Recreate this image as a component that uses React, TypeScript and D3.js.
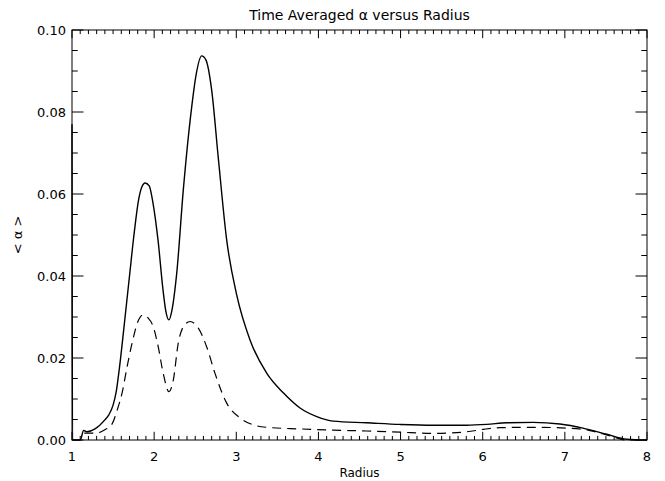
import React from "react";
import * as d3 from "d3";

const solidR = [1.0, 1.006, 1.1, 1.142, 1.183, 1.28, 1.4, 1.45, 1.5, 1.54, 1.58, 1.63, 1.7, 1.76, 1.81, 1.85, 1.89, 1.94, 1.986, 2.047, 2.108, 2.14, 2.18, 2.217, 2.275, 2.355, 2.457, 2.51, 2.579, 2.63, 2.7, 2.78, 2.883, 3.005, 3.167, 3.37, 3.572, 3.776, 3.98, 4.18, 4.588, 4.993, 5.395, 5.805, 6.049, 6.292, 6.612, 6.94, 7.22, 7.51, 7.753, 8.0];
const solidV = [0.077, 0.0, 0.0, 0.0023, 0.002, 0.0027, 0.0049, 0.0062, 0.0085, 0.012, 0.018, 0.027, 0.04, 0.051, 0.0585, 0.0617, 0.0627, 0.062, 0.0578, 0.0488, 0.0366, 0.0317, 0.0293, 0.0317, 0.0407, 0.061, 0.0812, 0.089, 0.0937, 0.0927, 0.0854, 0.069, 0.0488, 0.0354, 0.0244, 0.0163, 0.0115, 0.0078, 0.0057, 0.0046, 0.0042, 0.0038, 0.0036, 0.0036, 0.0038, 0.0042, 0.0043, 0.0039, 0.0029, 0.0014, 0.0002, 0.0];

const dashR = [1.15, 1.2, 1.3, 1.4, 1.49, 1.55, 1.61, 1.67, 1.74, 1.8, 1.868, 1.925, 1.99, 2.05, 2.11, 2.18, 2.233, 2.294, 2.355, 2.437, 2.538, 2.64, 2.74, 2.883, 3.045, 3.207, 3.37, 3.776, 4.18, 4.588, 4.993, 5.395, 5.805, 6.007, 6.21, 6.612, 7.02, 7.306, 7.55, 7.753, 8.0];
const dashV = [0.0017, 0.0017, 0.0017, 0.0025, 0.004, 0.0073, 0.0115, 0.0178, 0.0244, 0.0288, 0.0305, 0.0298, 0.0276, 0.0227, 0.0163, 0.0118, 0.0146, 0.0237, 0.0276, 0.0289, 0.0273, 0.0227, 0.0163, 0.009, 0.0054, 0.0037, 0.0031, 0.0027, 0.0024, 0.0022, 0.0019, 0.0016, 0.002, 0.0026, 0.003, 0.0031, 0.0029, 0.0023, 0.001, 0.0, 0.0];

const xTicks = [1, 2, 3, 4, 5, 6, 7, 8];
const xTickLabels = ["1", "2", "3", "4", "5", "6", "7", "8"];
const yTicks = [0, 0.02, 0.04, 0.06, 0.08, 0.1];
const yTickLabels = ["0.00", "0.02", "0.04", "0.06", "0.08", "0.10"];

const titleText = "Time Averaged α versus Radius";
const xTitle = "Radius";
const yTitle = "< α >";

export default function App() {
  const W = 665, H = 481;
  const L = 72, R = 647, T = 30, B = 440;
  const x = d3.scaleLinear().domain([1, 8]).range([L, R]);
  const y = d3.scaleLinear().domain([0, 0.1]).range([B, T]);

  const xMinor = d3.range(1, 8.0001, 0.1).map((v) => Math.round(v * 10) / 10);
  const yMinor = d3.range(0, 0.10001, 0.005).map((v) => Math.round(v * 1000) / 1000);

  const xMaj = 0.02 * (B - T);
  const yMaj = 0.02 * (R - L);

  const line = d3
    .line<[number, number]>()
    .x((d) => x(d[0]))
    .y((d) => y(d[1]))
    .curve(d3.curveMonotoneX);

  const solid = solidR.map((r, i) => [r, solidV[i]] as [number, number]);
  const dashed = dashR.map((r, i) => [r, dashV[i]] as [number, number]);

  const font = "'DejaVu Sans', sans-serif";

  return (
    <svg width={W} height={H} style={{ position: "absolute", left: 0, top: 0, background: "#fff" }}>
      <rect x={0} y={0} width={W} height={H} fill="#fff" />
      <g stroke="#000" strokeWidth={1} fill="none">
        <rect x={L} y={T} width={R - L} height={B - T} />
        {xMinor.map((v, i) => {
          const major = Math.abs(v - Math.round(v)) < 1e-6;
          const len = major ? xMaj : xMaj / 2;
          return (
            <g key={"xm" + i}>
              <line x1={x(v)} x2={x(v)} y1={B} y2={B - len} />
              <line x1={x(v)} x2={x(v)} y1={T} y2={T + len} />
            </g>
          );
        })}
        {yMinor.map((v, i) => {
          const major = Math.abs(v / 0.02 - Math.round(v / 0.02)) < 1e-6;
          const len = major ? yMaj : yMaj / 2;
          return (
            <g key={"ym" + i}>
              <line x1={L} x2={L + len} y1={y(v)} y2={y(v)} />
              <line x1={R} x2={R - len} y1={y(v)} y2={y(v)} />
            </g>
          );
        })}
      </g>
      <path d={line(solid) || ""} fill="none" stroke="#000" strokeWidth={1.4} />
      <path d={line(dashed) || ""} fill="none" stroke="#000" strokeWidth={1.2} strokeDasharray="9,6" />
      <g fontFamily={font} fontSize={13} fill="#000">
        {xTicks.map((v, i) => (
          <text key={"xl" + i} x={x(v)} y={B + 21} textAnchor="middle">
            {xTickLabels[i]}
          </text>
        ))}
        {yTicks.map((v, i) => (
          <text key={"yl" + i} x={L - 6} y={y(v) + 5} textAnchor="end">
            {yTickLabels[i]}
          </text>
        ))}
        <text x={(L + R) / 2} y={477} textAnchor="middle" fontSize={12}>
          {xTitle}
        </text>
        <text transform={`translate(22, ${(T + B) / 2}) rotate(-90)`} textAnchor="middle">
          {yTitle}
        </text>
        <text x={(L + R) / 2} y={20} textAnchor="middle" fontSize={14}>
          {titleText}
        </text>
      </g>
    </svg>
  );
}
